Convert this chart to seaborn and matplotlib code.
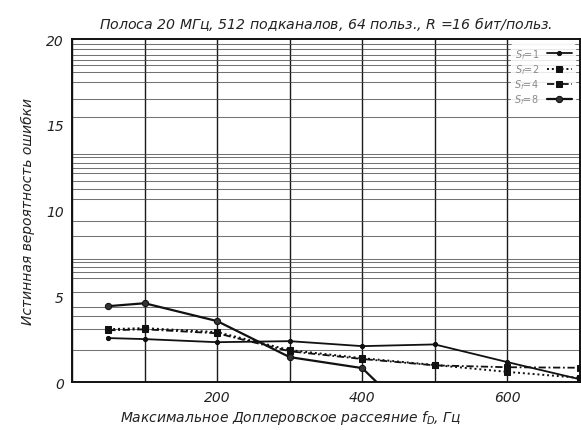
import matplotlib
matplotlib.use("Agg")
import matplotlib.pyplot as plt
import seaborn as sns
import pandas as pd

# ---- data ----
x_s1 = [50, 100, 200, 300, 400, 500, 600, 700]
y_s1 = [2.57, 2.51, 2.33, 2.39, 2.10, 2.20, 1.17, 0.17]

x_s2 = [50, 100, 200, 300, 400, 500, 600, 700]
y_s2 = [3.09, 3.15, 2.92, 1.87, 1.40, 1.00, 0.60, 0.25]

x_s4 = [50, 100, 200, 300, 400, 500, 600, 700]
y_s4 = [3.02, 3.08, 2.85, 1.80, 1.35, 0.98, 0.87, 0.84]

x_s8 = [50, 100, 200, 300, 400, 420]
y_s8 = [4.43, 4.60, 3.56, 1.46, 0.82, 0.0]

series_labels = ["$S_f$=1", "$S_f$=2", "$S_f$=4", "$S_f$=8"]

x_ticks = [0, 200, 400, 600]
y_ticks = [0, 5, 10, 15, 20]
x_grid = [100, 200, 300, 400, 500, 600]
# faint horizontal rulings visible in the scanned background
h_rulings = [19.7, 19.4, 19.1, 18.8, 18.5, 18.1, 17.5, 16.5, 15.45, 13.3, 13.1,
             12.8, 12.5, 12.2, 11.7, 11.25, 10.7, 10.0, 9.4, 8.5, 7.2, 7.0, 6.7,
             6.4, 6.1, 5.25, 4.4, 3.85, 3.1, 1.9]

title = "Полоса 20 МГц, 512 подканалов, 64 польз., $R$ =16 бит/польз."
xlabel = "Максимальное Доплеровское рассеяние $f_D$, Гц"
ylabel = "Истинная вероятность ошибки"

sns.set_theme(style="white")
plt.rcParams["font.family"] = ["DejaVu Sans"]
plt.rcParams["mathtext.fontset"] = "dejavusans"

fig = plt.figure(figsize=(5.81, 4.31), dpi=100)
ax = fig.add_axes([0.124, 0.111, 0.874, 0.796])

styles = [
    dict(linestyle="-", marker="o", markersize=3, lw=1.3),
    dict(linestyle=(0, (1, 1.5)), marker="s", markersize=4, lw=1.4),
    dict(linestyle=(0, (4, 1.5, 1, 1.5)), marker="s", markersize=4, lw=1.3),
    dict(linestyle="-", marker="o", markersize=4.5, lw=1.6, markerfacecolor="#333333"),
]
data = [(x_s1, y_s1), (x_s2, y_s2), (x_s4, y_s4), (x_s8, y_s8)]

for (xs, ys), lab, st in zip(data, series_labels, styles):
    df = pd.DataFrame({"x": xs, "y": ys})
    extra = {}
    if lab == series_labels[3]:
        extra["markevery"] = list(range(len(xs) - 1))
    sns.lineplot(data=df, x="x", y="y", ax=ax, color="#111111", label=lab,
                 markeredgecolor="#111111", clip_on=True, **st, **extra)

ax.set_xlim(0, 700)
ax.set_ylim(0, 20)
ax.set_xticks(x_ticks)
ax.set_yticks(y_ticks)
ax.set_xticks(x_grid, minor=True)
ax.set_yticks(h_rulings, minor=True)
ax.grid(which="minor", axis="x", color="#1a1a1a", lw=1.0)
ax.grid(which="minor", axis="y", color="#444444", lw=0.75, alpha=0.75)
ax.grid(which="major", axis="x", color="#1a1a1a", lw=1.0)
ax.set_axisbelow(True)

for sp in ax.spines.values():
    sp.set_color("#111111")
    sp.set_linewidth(1.4)

ax.tick_params(axis="both", which="both", length=0, labelsize=10, colors="#222222", pad=6)
for t in ax.get_xticklabels() + ax.get_yticklabels():
    t.set_fontstyle("italic")
xt = ax.get_xticklabels()
if x_ticks[0] == 0:
    xt[0].set_visible(False)

ax.set_title(title, fontsize=10.2, fontstyle="italic", color="#222222", pad=8)
ax.set_xlabel(xlabel, fontsize=10, fontstyle="italic", color="#222222")
ax.xaxis.set_label_coords(0.43, -0.075)
ax.set_ylabel(ylabel, fontsize=10, fontstyle="italic", color="#222222", labelpad=8)

leg = ax.legend(loc="upper right", frameon=True, fontsize=7, handlelength=2.6,
                labelspacing=0.15, borderpad=0.3, markerfirst=False,
                facecolor="white", edgecolor="white", framealpha=0.85)
for t in leg.get_texts():
    t.set_color("#888888")

fig.savefig("out.png", dpi=100)
